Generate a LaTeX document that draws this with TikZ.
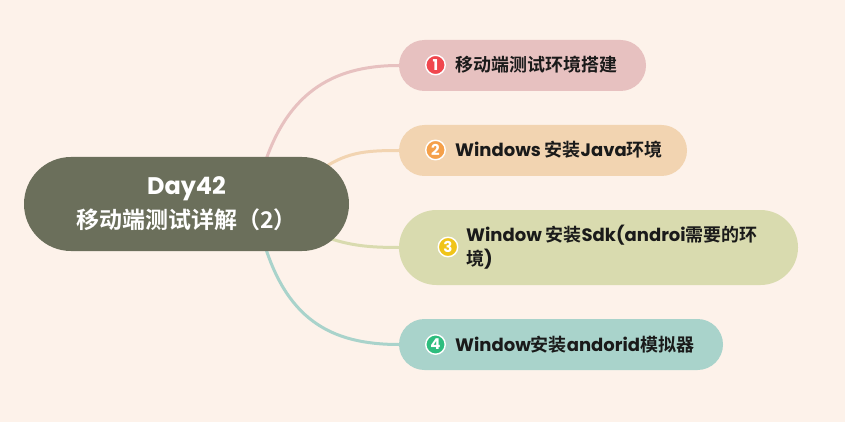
\documentclass[tikz,border=0pt]{standalone}
\usepackage{fontspec}
\usetikzlibrary{backgrounds}
\setmainfont{Poppins}
\newfontfamily\cjkfont{Noto Sans CJK SC}[BoldFont={* Bold}]
\newcommand\zhtxt[1]{{\cjkfont #1}}
\definecolor{bg}{HTML}{FDF2EA}
\definecolor{cen}{HTML}{6B6F5B}
\definecolor{fa}{HTML}{E7C1C0}
\definecolor{fb}{HTML}{F2D4B1}
\definecolor{fc}{HTML}{D9DBAF}
\definecolor{fd}{HTML}{A9D3CB}
\definecolor{na}{HTML}{F0474E}
\definecolor{nb}{HTML}{F5A04A}
\definecolor{nc}{HTML}{F0C419}
\definecolor{nd}{HTML}{2EBD7E}
\definecolor{txt}{HTML}{1A1A1A}
\begin{document}
\begin{tikzpicture}[x=1pt,y=-1pt,
  box/.style={rectangle, minimum height=51pt, inner sep=0pt, rounded corners=25.5pt},
  num/.style={circle, draw=white, line width=1.4pt, minimum size=19.5pt, inner sep=0pt, text=white, font=\bfseries\fontsize{15}{15}\selectfont},
  lbl/.style={anchor=west, inner sep=0pt, text=txt, align=left, font=\bfseries\fontsize{18}{24}\selectfont},
  link/.style={line width=3pt}]
\useasboundingbox (0,0) rectangle (845,422);
% central topic
\node[fill=cen, rounded corners=47pt, minimum width=325pt, minimum height=94pt, inner sep=0pt, text=white, align=center, font=\bfseries\fontsize{23}{34}\selectfont] (c) at (186.5,204) {\fontsize{24}{34}\selectfont Day42\\\zhtxt{移动端测试详解（2）}};
\coordinate (s1) at (262,172);
\coordinate (s2) at (318,172);
\coordinate (s3) at (318,234);
\coordinate (s4) at (262,236);
% branch boxes
\node[box, fill=fa, minimum width=247pt] (b1) at (522.5,65.5) {};
\node[box, fill=fb, minimum width=288pt] (b2) at (543,150.5) {};
\node[box, fill=fc, minimum width=399pt, minimum height=75pt, rounded corners=37.5pt] (b3) at (598.5,247.5) {};
\node[box, fill=fd, minimum width=324pt] (b4) at (561,344.5) {};
% icons and labels
\node[num, fill=na] (n1) at (435.5,65) {1};
\node[num, fill=nb] (n2) at (435.5,150) {2};
\node[num, fill=nc] (n3) at (448,247) {3};
\node[num, fill=nd] (n4) at (435.5,344.5) {4};
\node[lbl] (t1) at (455,65) {\zhtxt{移动端测试环境搭建}};
\node[lbl] (t2) at (455,150) {Windows \zhtxt{安装}Java\zhtxt{环境}};
\node[lbl] (t3) at (466,247) {Window \zhtxt{安装}Sdk(androi\zhtxt{需要的环}\\\zhtxt{境})};
\node[lbl] (t4) at (455,344.5) {Window\zhtxt{安装}andorid\zhtxt{模拟器}};
% connectors and background
\begin{pgfonlayer}{background}
\fill[bg] (0,0) rectangle (845,422);
\draw[link, fa] (s1) .. controls (285,95) and (330,65.5) .. (b1.west);
\draw[link, fb] (s2) .. controls (345,152) and (365,150.5) .. (b2.west);
\draw[link, fc] (s3) .. controls (345,245) and (365,247.5) .. (b3.west);
\draw[link, fd] (s4) .. controls (285,319) and (330,344.5) .. (b4.west);
\end{pgfonlayer}
\end{tikzpicture}
\end{document}
